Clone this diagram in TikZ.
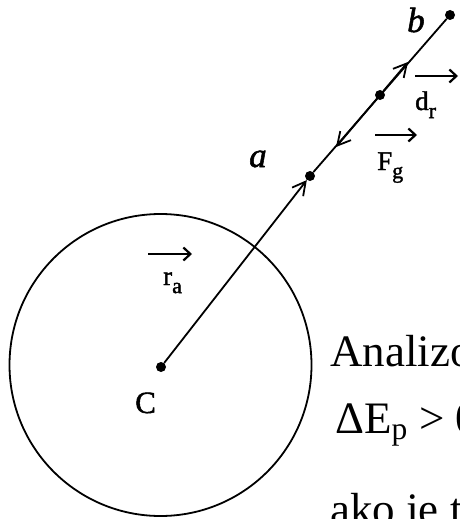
\documentclass[tikz,border=0pt]{standalone}
\usepackage{fontspec}
\setmainfont{Liberation Serif}
\newfontfamily\labfont[FakeBold=1.5]{Liberation Serif}
\usetikzlibrary{arrows.meta}
\newcommand\lsub[1]{\raisebox{-0.3em}{\fontsize{22}{22}\selectfont #1}}

\begin{document}
\begin{tikzpicture}[x=1pt,y=-1pt,>={Straight Barb[length=13pt,width=14pt]}]
  \tikzstyle{dot}=[circle,fill,inner sep=0pt,minimum size=10pt]
  \tikzstyle{lab}=[inner sep=0pt,anchor=base west,font=\labfont\fontsize{27}{29}\selectfont]
  \tikzstyle{pt}=[inner sep=0pt,anchor=base west,font=\labfont\fontsize{35}{38}\selectfont\itshape]
  \tikzstyle{big}=[inner sep=0pt,anchor=base west,font=\fontsize{45}{50}\selectfont]
  \tikzstyle{harr}=[line width=2.2pt,-{Straight Barb[length=7pt,width=13pt]}]
  \useasboundingbox (0,0) rectangle (459,519);
  \clip (0,0) rectangle (459,519);
  % points on the line
  \node[dot] (C) at (161,367) {};
  \node[dot] (a) at (310,176) {};
  \node[dot] (m) at (380,95) {};
  \node[dot] (b) at (450,15) {};
  \coordinate (tipF) at (336,147);
  \coordinate (tipD) at (408,62);
  \draw[line width=1.8pt] (160.5,365) circle (151);
  \draw[line width=1.8pt,->] (C) -- (a);
  \draw[line width=1.8pt] (a) -- (b);
  \draw[line width=1.8pt,->] (m) -- (tipF);
  \draw[line width=1.8pt,->] (m) -- (tipD);
  % labels
  \node[pt] (la) at (249,167) {a};
  \node[pt] (lb) at (407,32) {b};
  \node[lab,font=\labfont\fontsize{31}{33}\selectfont] (lC) at (135,413) {C};
  \node[lab] (dr) at (415,110) {d\lsub{r}};
  \node[lab] (Fg) at (377,170) {F\lsub{g}};
  \node[lab] (ra) at (163,285) {r\lsub{a}};
  \draw[harr] ([shift={(0,-34)}]dr.base west) -- ++(43,0);
  \draw[harr] ([shift={(-2,-35)}]Fg.base west) -- ++(42,0);
  \draw[harr] ([shift={(-15,-31)}]ra.base west) -- ++(44,0);
  % text beside
  \node[big] (t1) at (330,366) {Analizo};
  \node[big] (t2) at (335,433) {ΔE\textsubscript{p} > 0};
  \node[big] (t3) at (330,524) {ako je t};
\end{tikzpicture}
\end{document}
